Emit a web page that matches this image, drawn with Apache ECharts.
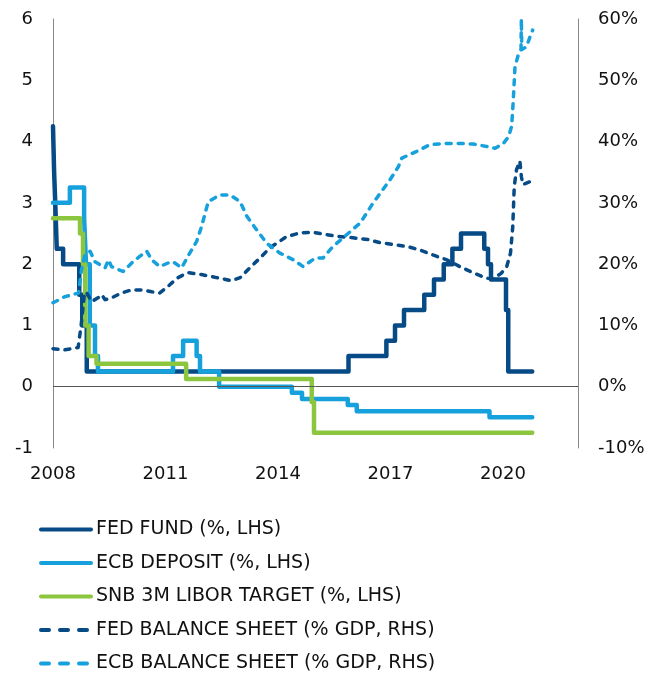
<!DOCTYPE html>
<html lang="en">
<head>
<meta charset="UTF-8">
<title>Policy rates and balance sheets</title>
<script src="https://cdn.jsdelivr.net/npm/echarts@6/dist/echarts.min.js"></script>
<style>
body { margin: 0; background: #fff; }
#chart { width: 664px; height: 674px; }
</style>
</head>
<body>
<div id="chart"></div>
<script>
// left axis, policy rates (%)
var fedFundDates = [2008.0, 2008.03, 2008.06, 2008.1, 2008.27, 2008.7, 2008.78, 2008.9, 2015.88, 2016.89, 2017.12, 2017.36, 2017.9, 2018.16, 2018.42, 2018.65, 2018.88, 2019.5, 2019.6, 2019.68, 2020.08, 2020.14, 2020.78];
var fedFundRates = [4.25, 3.5, 3.0, 2.25, 2.0, 1.5, 1.0, 0.25, 0.5, 0.75, 1.0, 1.25, 1.5, 1.75, 2.0, 2.25, 2.5, 2.25, 2.0, 1.75, 1.25, 0.25, 0.25];

var ecbDepositDates = [2008.0, 2008.45, 2008.83, 2008.88, 2008.98, 2009.12, 2009.2, 2011.2, 2011.47, 2011.83, 2011.92, 2012.43, 2014.37, 2014.64, 2015.86, 2016.1, 2019.64, 2020.78];
var ecbDepositRates = [3.0, 3.25, 2.75, 2.0, 1.0, 0.5, 0.25, 0.5, 0.75, 0.5, 0.25, 0.0, -0.1, -0.2, -0.3, -0.4, -0.5, -0.5];

var snbDates = [2008.0, 2008.72, 2008.8, 2008.86, 2008.95, 2009.16, 2011.55, 2014.9, 2014.96, 2020.78];
var snbRates = [2.75, 2.5, 2.0, 1.0, 0.5, 0.375, 0.125, -0.25, -0.75, -0.75];

// right axis, balance sheets (% of GDP)
var fedBsDates = [2008.0, 2008.3, 2008.67, 2008.75, 2008.83, 2008.88, 2009.03, 2009.2, 2009.3, 2009.39, 2009.56, 2009.83, 2010.1, 2010.37, 2010.63, 2010.85, 2011.07, 2011.33, 2011.6, 2011.96, 2012.36, 2012.76, 2012.99, 2013.25, 2013.52, 2013.79, 2014.23, 2014.59, 2014.93, 2015.3, 2015.65, 2016.0, 2016.4, 2016.72, 2017.07, 2017.43, 2017.79, 2018.13, 2018.5, 2018.85, 2019.2, 2019.56, 2019.73, 2019.95, 2020.1, 2020.2, 2020.26, 2020.3, 2020.36, 2020.45, 2020.49, 2020.53, 2020.74];
var fedBsValues = [6.2, 6.0, 6.4, 10, 14.7, 15.5, 13.9, 14.5, 15, 14.2, 14.5, 15.3, 15.8, 15.8, 15.5, 15.3, 16.4, 17.8, 18.6, 18.3, 17.8, 17.3, 17.8, 19.4, 21, 22.7, 24.5, 25.1, 25.2, 24.8, 24.5, 24.3, 24, 23.5, 23.2, 22.9, 22.3, 21.5, 20.7, 19.6, 18.6, 17.7, 17.6, 18.5, 19.6, 21.8, 26.1, 32.7, 35.4, 36.8, 34.3, 33, 33.5];

var ecbBsDates = [2008.0, 2008.32, 2008.68, 2008.76, 2008.85, 2008.99, 2009.12, 2009.39, 2009.48, 2009.56, 2009.87, 2010.1, 2010.32, 2010.5, 2010.63, 2010.85, 2011.07, 2011.2, 2011.43, 2011.6, 2011.83, 2011.96, 2012.14, 2012.45, 2012.72, 2012.99, 2013.17, 2013.43, 2013.7, 2014.05, 2014.41, 2014.67, 2014.99, 2015.2, 2015.47, 2015.83, 2016.19, 2016.54, 2016.99, 2017.21, 2017.3, 2017.7, 2018.05, 2018.5, 2018.85, 2019.21, 2019.56, 2019.79, 2020.01, 2020.15, 2020.23, 2020.27, 2020.32, 2020.41, 2020.48, 2020.49, 2020.5, 2020.63, 2020.72, 2020.79];
var ecbBsValues = [13.7, 14.7, 15.3, 19.1, 21.5, 22.1, 20.4, 19.4, 20.7, 19.6, 18.8, 20.2, 21.3, 22.1, 20.7, 19.6, 20.2, 20.4, 19.4, 21.3, 23.7, 26.1, 30.2, 31.3, 31.3, 30.2, 27.8, 25.6, 23.4, 21.8, 20.7, 19.6, 21, 21, 22.9, 24.8, 26.7, 30, 33.8, 35.9, 37.3, 38.4, 39.5, 39.7, 39.7, 39.6, 39.2, 38.9, 39.7, 40.8, 42.5, 46.3, 52.2, 54.2, 55, 60, 55, 55.5, 57.1, 58.2];

var seriesNames = ['FED FUND (%, LHS)', 'ECB DEPOSIT (%, LHS)', 'SNB 3M LIBOR TARGET (%, LHS)', 'FED BALANCE SHEET (% GDP, RHS)', 'ECB BALANCE SHEET (% GDP, RHS)'];
var xTicks = [2008, 2011, 2014, 2017, 2020];

var darkBlue = '#064a86';
var lightBlue = '#17a1dc';
var green = '#8cc63f';
var font = 'DejaVu Sans';

function zip(xs, ys) {
    return xs.map(function (x, i) { return [x, ys[i]]; });
}

function stepLine(name, color, xs, ys) {
    return {
        name: name,
        type: 'line',
        step: 'end',
        yAxisIndex: 0,
        symbol: 'none',
        data: zip(xs, ys),
        lineStyle: { color: color, width: 4.5, cap: 'round', join: 'round' },
        itemStyle: { color: color }
    };
}

function dashLine(name, color, xs, ys) {
    return {
        name: name,
        type: 'line',
        yAxisIndex: 1,
        symbol: 'none',
        data: zip(xs, ys),
        lineStyle: { color: color, width: 3.5, type: [5, 7], cap: 'round', join: 'round' },
        itemStyle: { color: color }
    };
}

function legendItem(name, dashed) {
    var ls = { width: 4, cap: 'round' };
    if (dashed) ls.type = [8, 11];
    return { name: name, lineStyle: ls, itemStyle: { opacity: 0 } };
}

var fedFund = stepLine(seriesNames[0], darkBlue, fedFundDates, fedFundRates);
fedFund.markLine = {
    silent: true,
    symbol: 'none',
    label: { show: false },
    lineStyle: { color: '#555', width: 1, type: 'solid' },
    data: [{ yAxis: 0 }]
};

var option = {
    animation: false,
    textStyle: { fontFamily: font },
    grid: { left: 53, right: 86, top: 19, bottom: 226 },
    legend: {
        orient: 'vertical',
        left: 34,
        top: 515,
        height: 170,
        itemWidth: 50,
        itemHeight: 14,
        itemGap: 14.5,
        textStyle: { fontSize: 19, color: '#111', fontFamily: font },
        data: [
            legendItem(seriesNames[0], false),
            legendItem(seriesNames[1], false),
            legendItem(seriesNames[2], false),
            legendItem(seriesNames[3], true),
            legendItem(seriesNames[4], true)
        ]
    },
    xAxis: {
        type: 'value',
        min: 2008,
        max: 2022,
        interval: 3,
        axisLine: { show: false },
        axisTick: { show: false },
        splitLine: { show: false },
        axisLabel: {
            fontSize: 18,
            color: '#111',
            margin: 17,
            showMaxLabel: false,
            formatter: function (v) { return xTicks.indexOf(v) >= 0 ? String(v) : ''; }
        }
    },
    yAxis: [
        {
            type: 'value',
            min: -1,
            max: 6,
            interval: 1,
            position: 'left',
            axisLine: { show: true, onZero: false, lineStyle: { color: '#888', width: 1 } },
            axisTick: { show: false },
            splitLine: { show: false },
            axisLabel: { fontSize: 18, color: '#111', margin: 20 }
        },
        {
            type: 'value',
            min: -10,
            max: 60,
            interval: 10,
            position: 'right',
            axisLine: { show: true, onZero: false, lineStyle: { color: '#888', width: 1 } },
            axisTick: { show: false },
            splitLine: { show: false },
            axisLabel: { fontSize: 18, color: '#111', margin: 20, formatter: '{value}%' }
        }
    ],
    series: [
        fedFund,
        stepLine(seriesNames[1], lightBlue, ecbDepositDates, ecbDepositRates),
        stepLine(seriesNames[2], green, snbDates, snbRates),
        dashLine(seriesNames[3], darkBlue, fedBsDates, fedBsValues),
        dashLine(seriesNames[4], lightBlue, ecbBsDates, ecbBsValues)
    ]
};

var chart = echarts.init(document.getElementById('chart'));
chart.setOption(option);
</script>
</body>
</html>
